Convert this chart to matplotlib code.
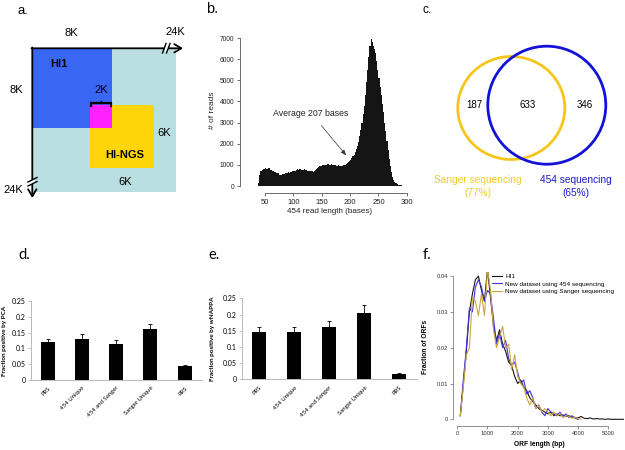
import numpy as np
import matplotlib
matplotlib.use('Agg')
import matplotlib.pyplot as plt
from matplotlib.patches import Rectangle, Ellipse
from matplotlib.lines import Line2D

plt.rcParams['font.family'] = ['Liberation Sans', 'DejaVu Sans']

# ---------------- data ----------------
# panel b: histogram of 454 read lengths (2-base bins starting at 38)
read_bin_start = 38
read_bin_width = 2
read_counts = [150, 500, 700, 780, 800, 820, 840, 820, 800, 830,
               780, 750, 720, 700, 680, 650, 620, 600, 540, 500,
               520, 560, 580, 550, 600, 620, 640, 610, 650, 680,
               700, 690, 720, 760, 800, 780, 820, 800, 780, 760,
               800, 770, 740, 720, 700, 690, 720, 700, 680, 720,
               760, 800, 850, 900, 930, 960, 980, 1000, 990, 1010,
               1000, 1020, 990, 1000, 1030, 1010, 1000, 990, 980, 960,
               970, 950, 940, 960, 950, 970, 1000, 1030, 1080, 1150,
               1200, 1250, 1320, 1400, 1480, 1600, 1750, 1900, 2100, 2350,
               2650, 3000, 3400, 3800, 4300, 4900, 5500, 6100, 6600, 6950,
               6800, 6600, 6500, 6300, 5900, 5500, 5100, 4700, 4300, 3900,
               3500, 3000, 2600, 2150, 1700, 1300, 950, 650, 420, 270,
               180, 130, 100, 70, 50, 35, 25, 15, 10, 5]
hist_xticks = [50, 100, 150, 200, 250, 300]
hist_yticks = [0, 1000, 2000, 3000, 4000, 5000, 6000, 7000]
avg_read_len = 207

# panel c: Venn counts
venn_sanger_only = 187
venn_both = 633
venn_454_only = 346
sanger_pct = "(77%)"
seq454_pct = "(65%)"

# panels d, e
bar_categories = ["PRS", "454 Unique", "454 and Sanger", "Sanger Unique", "RRS"]
pca_values = [0.119, 0.130, 0.113, 0.160, 0.044]
pca_errors = [0.011, 0.016, 0.014, 0.017, 0.004]
wnappa_values = [0.147, 0.145, 0.161, 0.206, 0.016]
wnappa_errors = [0.013, 0.017, 0.020, 0.023, 0.003]
bar_yticks = [0, 0.05, 0.1, 0.15, 0.2, 0.25]
bar_yticklabels = ["0", "0.05", "0.1", "0.15", "0.2", "0.25"]

# panel f: ORF length distributions
orf_len_hi1 = [100, 200, 300, 400, 500, 600, 700, 800, 900, 1000,
               1100, 1200, 1300, 1400, 1500, 1600, 1700, 1800, 1900, 2000,
               2100, 2200, 2300, 2400, 2500, 2600, 2700, 2800, 2900, 3000,
               3100, 3200, 3300, 3400, 3500, 3600, 3700, 3800, 3900, 4000,
               4100, 4200, 4300, 4400, 4500, 4600, 4700, 4800, 4900, 5000,
               5100, 5200, 5300, 5400, 5500]
frac_hi1 = [0.001, 0.010, 0.019, 0.030, 0.035, 0.039, 0.040, 0.036, 0.033, 0.042,
            0.034, 0.026, 0.022, 0.025, 0.021, 0.019, 0.016, 0.015, 0.012, 0.010,
            0.011, 0.009, 0.008, 0.006, 0.005, 0.004, 0.003, 0.0025, 0.002, 0.0015,
            0.002, 0.001, 0.0015, 0.001, 0.0012, 0.0008, 0.001, 0.0006, 0.0005, 0.0004,
            0.0008, 0.0003, 0.0002, 0.0004, 0.0001, 0.0002, 0.0001, 0.0001, 0.0, 0.0001,
            0.0, 0.0, 0.0, 0.0, 0.0]
orf_len_454 = [100, 200, 300, 400, 500, 600, 700, 800, 900, 1000,
               1100, 1200, 1300, 1400, 1500, 1600, 1700, 1800, 1900, 2000,
               2100, 2200, 2300, 2400, 2500, 2600, 2700, 2800, 2900, 3000,
               3100, 3200, 3300, 3400, 3500, 3600, 3700, 3800, 3900, 4000]
frac_454 = [0.001, 0.011, 0.020, 0.031, 0.030, 0.037, 0.039, 0.037, 0.033, 0.036,
            0.035, 0.028, 0.021, 0.024, 0.020, 0.022, 0.017, 0.015, 0.016, 0.013,
            0.010, 0.011, 0.007, 0.008, 0.006, 0.003, 0.004, 0.002, 0.001, 0.003,
            0.002, 0.0015, 0.001, 0.002, 0.0008, 0.0015, 0.0005, 0.001, 0.0003, 0.0]
orf_len_sanger = [100, 200, 300, 400, 500, 600, 700, 800, 900, 1000,
                  1100, 1200, 1300, 1400, 1500, 1600, 1700, 1800, 1900, 2000,
                  2100, 2200, 2300, 2400, 2500, 2600, 2700, 2800, 2900, 3000,
                  3100, 3200, 3300, 3400, 3500, 3600, 3700, 3800, 3900, 4000, 4100]
frac_sanger = [0.001, 0.009, 0.018, 0.020, 0.034, 0.033, 0.029, 0.035, 0.029, 0.042,
               0.036, 0.025, 0.020, 0.023, 0.026, 0.020, 0.021, 0.014, 0.018, 0.012,
               0.010, 0.009, 0.006, 0.004, 0.006, 0.003, 0.004, 0.002, 0.003, 0.002,
               0.001, 0.002, 0.001, 0.0015, 0.0005, 0.001, 0.0008, 0.0003, 0.0006, 0.0002, 0.0]
orf_xticks = [0, 1000, 2000, 3000, 4000, 5000]
orf_yticks = [0, 0.01, 0.02, 0.03, 0.04]
orf_yticklabels = ["0", "0.01", "0.02", "0.03", "0.04"]

# ---------------- figure ----------------
W, H = 625, 450
fig = plt.figure(figsize=(6.25, 4.5), dpi=100)


def px_axes(x0, y0, x1, y1):
    return fig.add_axes([x0 / W, 1 - y1 / H, (x1 - x0) / W, (y1 - y0) / H])


ov = fig.add_axes([0, 0, 1, 1])
ov.set_xlim(0, W)
ov.set_ylim(H, 0)
ov.axis('off')

# ---- panel a ----
ov.text(23, 11, "a.", fontsize=9.5, ha='center', va='center')
ov.add_patch(Rectangle((32.3, 48.3), 143.7, 143.4, fc='#b9dfe2', ec='none'))
ov.add_patch(Rectangle((32.3, 48.3), 79.4, 79.4, fc='#3a66f4', ec='none'))
ov.add_patch(Rectangle((90, 105), 64, 63.3, fc='#ffd50a', ec='none'))
ov.add_patch(Rectangle((90, 105), 21.7, 22.7, fc='#ff22ff', ec='none'))
# axes lines with arrows
ov.annotate("", xy=(183, 48.3), xytext=(31.5, 48.3),
            arrowprops=dict(arrowstyle='->,head_length=0.5,head_width=0.3', lw=1.3, color='black',
                            shrinkA=0, shrinkB=0))
ov.annotate("", xy=(32.3, 198), xytext=(32.3, 47.5),
            arrowprops=dict(arrowstyle='->,head_length=0.5,head_width=0.3', lw=1.3, color='black',
                            shrinkA=0, shrinkB=0))
# break marks
ov.add_patch(Rectangle((164.5, 46), 3.5, 5, fc='white', ec='none', zorder=3))
ov.plot([162.5, 166.0], [53, 43.5], color='black', lw=1.0, zorder=4)
ov.plot([166.5, 170.0], [53, 43.5], color='black', lw=1.0, zorder=4)
ov.add_patch(Rectangle((30, 180), 5, 3.5, fc='white', ec='none', zorder=3))
ov.plot([28, 37], [182, 177.5], color='black', lw=1.0, zorder=4)
ov.plot([28, 37], [186, 181.5], color='black', lw=1.0, zorder=4)
# 2K bracket
ov.plot([90.5, 90.5, 111.2, 111.2], [106, 102.7, 102.7, 106], color='black', lw=1.6, zorder=4)
ov.plot([101, 101], [102.7, 100.5], color='black', lw=1.0, zorder=4)
ov.text(71.7, 32.7, "8K", fontsize=8, ha='center', va='center')
ov.text(175, 32.3, "24K", fontsize=8, ha='center', va='center')
ov.text(16.7, 90, "8K", fontsize=8, ha='center', va='center')
ov.text(101, 90, "2K", fontsize=8, ha='center', va='center')
ov.text(59.3, 64, "HI1", fontsize=8, fontweight='bold', ha='center', va='center')
ov.text(164, 133.3, "6K", fontsize=8, ha='center', va='center')
ov.text(125, 155, "HI-NGS", fontsize=8, fontweight='bold', ha='center', va='center')
ov.text(125, 181.7, "6K", fontsize=8, ha='center', va='center')
ov.text(13.3, 190, "24K", fontsize=8, ha='center', va='center')

# ---- panel b ----
ov.text(212, 9, "b.", fontsize=10.5, ha='center', va='center')
axb = px_axes(245, 30, 415, 190)
edges = read_bin_start + read_bin_width * np.arange(len(read_counts))
axb.bar(edges, read_counts, width=read_bin_width, align='edge', color='#151515', lw=0)
axb.set_xlim(14.75, 314.4)
axb.set_ylim(-189, 7379)
for s in ['top', 'right']:
    axb.spines[s].set_visible(False)
axb.spines['left'].set_position(('outward', 3.6))
axb.spines['left'].set_bounds(0, 7000)
axb.spines['bottom'].set_position(('outward', 2.2))
axb.spines['bottom'].set_bounds(50, 300)
for s in ['left', 'bottom']:
    axb.spines[s].set_color('#555555')
    axb.spines[s].set_linewidth(0.6)
axb.set_xticks(hist_xticks)
axb.set_yticks(hist_yticks)
axb.tick_params(axis='x', labelsize=5.5, length=2.5, width=0.6, color='#555555', pad=1.5, labelcolor='#222222')
axb.tick_params(axis='y', labelsize=4.8, length=2.5, width=0.6, color='#555555', pad=1.5, labelcolor='#222222')
axb.set_facecolor('none')
axb.set_xlabel("454 read length (bases)", fontsize=5.8, labelpad=2, color='#222222')
axb.set_ylabel("# of reads", fontsize=6, labelpad=3, color='#222222')
axb.annotate(f"Average {avg_read_len} bases", xy=(193, 1450), xytext=(131, 3450),
             fontsize=6.3, ha='center', va='center', color='#222222',
             arrowprops=dict(arrowstyle='-|>,head_length=0.5,head_width=0.2', lw=0.5,
                             color='#333333', shrinkA=5, shrinkB=0))

# ---- panel c ----
ov.text(427, 10, "c.", fontsize=8.5, ha='center', va='center')
ov.add_patch(Ellipse((511.3, 108), 107, 103, fill=False, ec='#f6c61c', lw=2.0))
ov.add_patch(Ellipse((546.8, 105.2), 118, 118, fill=False, ec='#1212d8', lw=2.0))
ov.text(474, 105, str(venn_sanger_only), fontsize=7, ha='center', va='center')
ov.text(527.3, 105, str(venn_both), fontsize=7, ha='center', va='center')
ov.text(585, 105, str(venn_454_only), fontsize=7, ha='center', va='center')
ov.text(478.3, 180, "Sanger sequencing", fontsize=7.3, color='#f2ca2c', ha='center', va='center')
ov.text(478.3, 192.7, sanger_pct, fontsize=7.3, color='#f2ca2c', ha='center', va='center')
ov.text(575.7, 180, "454 sequencing", fontsize=7.3, color='#1a1acc', ha='center', va='center')
ov.text(575.7, 192.7, seq454_pct, fontsize=7.3, color='#1a1acc', ha='center', va='center')


# ---- panels d, e ----
def bar_panel(ax, values, errors, ylabel, label_x):
    xs = np.arange(len(bar_categories))
    ax.bar(xs, values, width=0.41, color='black', zorder=2)
    ax.errorbar(xs, values, yerr=[np.zeros(len(errors)), errors], fmt='none',
                ecolor='black', elinewidth=0.6, capsize=1.2, capthick=0.6, zorder=3)
    ax.set_xlim(-0.5, len(bar_categories) - 0.5)
    ax.set_ylim(0, 0.25)
    for s in ['top', 'right']:
        ax.spines[s].set_visible(False)
    for s in ['left', 'bottom']:
        ax.spines[s].set_color('#b0b0b0')
        ax.spines[s].set_linewidth(0.6)
    ax.set_yticks(bar_yticks)
    ax.set_yticklabels(bar_yticklabels, family=['Lato', 'DejaVu Sans'])
    ax.tick_params(axis='y', labelsize=5, length=2, width=0.5, color='#b0b0b0', pad=1.5)
    ax.set_xticks(xs)
    ax.set_xticklabels(bar_categories, rotation=45, ha='right', va='top', rotation_mode='anchor',
                       family=['Lato', 'DejaVu Sans'])
    ax.tick_params(axis='x', labelsize=4.3, length=0, pad=4)
    ax.set_ylabel(ylabel, fontsize=4.6, fontweight='bold', family=['Lato', 'DejaVu Sans'])
    ax.yaxis.set_label_coords(label_x, 0.5)
    ax.set_facecolor('none')


ov.text(24, 255, "d.", fontsize=10.5, ha='center', va='center', family=['Lato', 'DejaVu Sans'])
axd = px_axes(30.7, 301, 201.7, 380)
bar_panel(axd, pca_values, pca_errors, "Fraction positive by PCA", -0.14)

ov.text(214, 255, "e.", fontsize=10.5, ha='center', va='center', family=['Lato', 'DejaVu Sans'])
axe = px_axes(241.8, 298.3, 416.8, 379.3)
bar_panel(axe, wnappa_values, wnappa_errors, "Fraction positive by wNAPPA", -0.153)

# ---- panel f ----
ov.text(427, 255, "f.", fontsize=10.5, ha='center', va='center', family=['Lato', 'DejaVu Sans'])
axf = px_axes(455, 272, 624, 422)
axf.plot(orf_len_hi1, frac_hi1, color='#151515', lw=0.8, label='HI1')
axf.plot(orf_len_454, frac_454, color='#4433e0', lw=0.8, label='New dataset using 454 sequencing')
axf.plot(orf_len_sanger, frac_sanger, color='#c9a63c', lw=0.8, label='New dataset using Sanger sequencing')
axf.set_xlim(-76, 5520)
axf.set_ylim(-0.00075, 0.04115)
for s in ['top', 'right']:
    axf.spines[s].set_visible(False)
axf.spines['left'].set_position(('outward', 1.7))
axf.spines['left'].set_bounds(0, 0.04)
axf.spines['bottom'].set_position(('outward', 2.9))
axf.spines['bottom'].set_bounds(0, 5000)
for s in ['left', 'bottom']:
    axf.spines[s].set_color('#666666')
    axf.spines[s].set_linewidth(0.5)
axf.set_xticks(orf_xticks)
axf.set_yticks(orf_yticks)
axf.set_yticklabels(orf_yticklabels)
axf.tick_params(labelsize=4.2, length=2, width=0.5, color='#666666', pad=1.5, labelcolor='#333333')
axf.set_xlabel("ORF length (bp)", fontsize=4.8, fontweight='bold', labelpad=4)
axf.set_ylabel("Fraction of ORFs", fontsize=4.8, fontweight='bold', labelpad=5)
axf.set_facecolor('none')
axf.legend(loc='upper left', bbox_to_anchor=(0.219, 0.99), frameon=False, fontsize=4.6,
           handlelength=1.6, handletextpad=0.5, labelspacing=0.35, borderpad=0, borderaxespad=0)

fig.savefig("out.png", dpi=100)
